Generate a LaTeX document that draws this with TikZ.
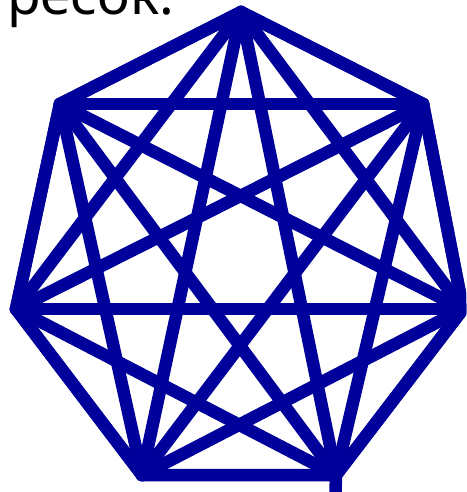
\documentclass[tikz,border=0pt]{standalone}
\usepackage{fontspec}
\newfontfamily\captionfont{Noto Sans}
\usepackage{xcolor}
\usetikzlibrary{positioning, calc}
\definecolor{edgeblue}{RGB}{0,0,155}
\tikzset{
    edge/.style={draw=edgeblue, line width=12.5pt, line cap=round, line join=round},
}

\begin{document}
\begin{tikzpicture}[x=1pt, y=-1pt]

    % Frame of the cropped picture
    \useasboundingbox (0,0) rectangle (466,492);
    \clip (0,0) rectangle (466,492);

    % Word cut off at the top
    \node[anchor=base west, inner sep=0pt, font=\captionfont\fontsize{55}{60}\selectfont] (word) at (7,15) {ресок.};

    % --- VERTICES of the heptagon ---
    \coordinate (v0) at (241,12);
    \coordinate (v1) at (423,104);
    \coordinate (v2) at (463,309);
    \coordinate (v3) at (336,475);
    \coordinate (v4) at (142,475);
    \coordinate (v5) at (16,309);
    \coordinate (v6) at (60,104);

    % Outer heptagon
    \draw[edge] (v0) -- (v1) -- (v2) -- (v3) -- (v4) -- (v5) -- (v6) -- cycle;

    % All diagonals
    \foreach \i in {0,...,6} {
        \foreach \j in {0,...,6} {
            \ifnum\j>\i
                \draw[edge] (v\i) -- (v\j);
            \fi
        }
    }

    % Loose stroke leaving the lower right corner
    \coordinate (tail) at (335,510);
    \draw[edge] (v3) -- (tail);

\end{tikzpicture}
\end{document}
